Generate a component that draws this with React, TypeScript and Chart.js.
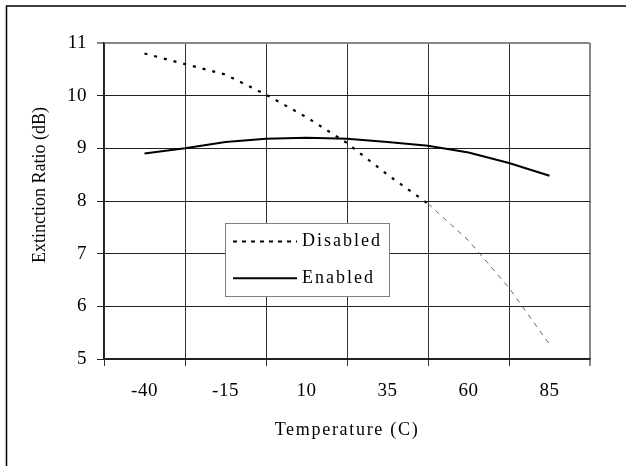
import { useEffect, useRef } from "react"
import { Chart, registerables } from "chart.js"
import type { Plugin } from "chart.js"

Chart.register(...registerables)

// temperature (C) of each measurement
const temperatures = [-40, -27.5, -15, -2.5, 10, 22.5, 35, 47.5, 60, 72.5, 85]
// extinction ratio (dB)
const disabledRatio = [10.8, 10.6, 10.4, 10.02, 9.59, 9.1, 8.5, 7.95, 7.25, 6.35, 5.28]
const enabledRatio = [8.9, 9.0, 9.12, 9.18, 9.2, 9.18, 9.12, 9.05, 8.92, 8.72, 8.48]

const xTickLabels = ["-40", "-15", "10", "35", "60", "85"]
const yMin = 5
const yMax = 11

const FONT = "'Liberation Serif', 'Times New Roman', serif"
const halfStep = 12.5

// category boundaries sit half a step either side of each label
const xBounds = [...xTickLabels.map((l) => Number(l) - halfStep), Number(xTickLabels[xTickLabels.length - 1]) + halfStep]

const sheetPlugin: Plugin<"line"> = {
  id: "sheet",
  beforeDraw(chart) {
    const { ctx, width, height } = chart
    ctx.save()
    ctx.fillStyle = "#fff"
    ctx.fillRect(0, 0, width, height)
    ctx.strokeStyle = "#000"
    ctx.lineWidth = 1.5
    ctx.beginPath()
    ctx.moveTo(6.5, height)
    ctx.lineTo(6.5, 6)
    ctx.lineTo(width, 6)
    ctx.stroke()
    ctx.restore()
    ;(ctx as any).letterSpacing = "0.5px"
  },
  afterDraw(chart) {
    const { ctx } = chart
    ctx.save()
    ;(ctx as any).letterSpacing = "0px"
    ctx.fillStyle = "#000"
    ctx.textAlign = "center"
    ctx.textBaseline = "middle"

    // y title
    ctx.save()
    ctx.font = `18px ${FONT}`
    ctx.translate(40, 185)
    ctx.rotate(-Math.PI / 2)
    ctx.fillText("Extinction Ratio (dB)", 0, 0)
    ctx.restore()

    // x title
    ;(ctx as any).letterSpacing = "1.7px"
    ctx.font = `18px ${FONT}`
    ctx.fillText("Temperature (C)", 347, 430)

    // legend box
    const bx = 225.5
    const by = 223.5
    ctx.fillStyle = "#fff"
    ctx.fillRect(bx, by, 164, 73)
    ctx.strokeStyle = "#808080"
    ctx.lineWidth = 1
    ctx.strokeRect(bx, by, 164, 73)

    ctx.textAlign = "left"
    ;(ctx as any).letterSpacing = "2px"
    chart.data.datasets.forEach((ds: any, i) => {
      const rowY = 241.5 + i * 36.8
      ctx.save()
      ctx.strokeStyle = "#000"
      ctx.lineWidth = 2
      ctx.setLineDash(ds.legendDash || [])
      ctx.beginPath()
      ctx.moveTo(233, rowY)
      ctx.lineTo(297, rowY)
      ctx.stroke()
      ctx.restore()
      ctx.fillStyle = "#000"
      ctx.fillText(ds.label, 302, rowY)
    })
    ctx.restore()
    ;(ctx as any).letterSpacing = "0px"
  },
}

export default function App() {
  const chartRef = useRef<HTMLCanvasElement>(null)
  const chartInstance = useRef<Chart | null>(null)

  useEffect(() => {
    if (!chartRef.current) return
    if (chartInstance.current) chartInstance.current.destroy()
    const ctx = chartRef.current.getContext("2d")
    if (!ctx) return

    const thinFrom = 47.5

    chartInstance.current = new Chart(ctx, {
      type: "line",
      data: {
        datasets: [
          {
            label: "Disabled",
            data: temperatures.map((t, i) => ({ x: t, y: disabledRatio[i] })),
            borderColor: "#000",
            borderWidth: 2.2,
            borderDash: [3, 7],
            pointRadius: 0,
            fill: false,
            legendDash: [4, 5],
            segment: {
              borderColor: (c: any) => (c.p0.parsed.x >= thinFrom ? "#666" : undefined),
              borderWidth: (c: any) => (c.p0.parsed.x >= thinFrom ? 1 : undefined),
              borderDash: (c: any) => (c.p0.parsed.x >= thinFrom ? [5, 5] : undefined),
            },
          } as any,
          {
            label: "Enabled",
            data: temperatures.map((t, i) => ({ x: t, y: enabledRatio[i] })),
            borderColor: "#000",
            borderWidth: 2,
            pointRadius: 0,
            fill: false,
          },
        ],
      },
      options: {
        responsive: false,
        animation: false,
        layout: { padding: { top: 43, right: 36, left: 0, bottom: 0 } },
        plugins: {
          legend: { display: false },
          tooltip: { enabled: false },
        },
        scales: {
          x: {
            type: "linear",
            min: xBounds[0],
            max: xBounds[xBounds.length - 1],
            afterBuildTicks: (scale) => {
              scale.ticks = xBounds.map((v) => ({ value: v }))
            },
            afterFit: (scale) => {
              scale.height = 107
            },
            ticks: {
              callback: (_v, i) => xTickLabels[i] ?? "",
              labelOffset: 40.5,
              padding: 14,
              autoSkip: false,
              maxRotation: 0,
              color: "#000",
              font: { family: FONT, size: 19 },
            },
            grid: {
              color: (c) => (c.index === xBounds.length - 1 ? "#888" : "#333"),
              lineWidth: (c) => (c.index === xBounds.length - 1 ? 2 : 1),
              tickLength: 7,
            },
            border: { color: "#222", width: 1.5 },
          },
          y: {
            min: yMin,
            max: yMax,
            afterFit: (scale) => {
              scale.width = 104
            },
            ticks: {
              stepSize: 1,
              padding: 10,
              color: "#000",
              font: { family: FONT, size: 19 },
            },
            grid: {
              color: (c) => (c.tick && c.tick.value === yMax ? "#888" : "#222"),
              lineWidth: (c) => (c.tick && c.tick.value === yMax ? 2 : 1),
              tickLength: 7,
            },
            border: { color: "#222", width: 1.5 },
          },
        },
      },
      plugins: [sheetPlugin],
    })

    return () => {
      if (chartInstance.current) {
        chartInstance.current.destroy()
        chartInstance.current = null
      }
    }
  }, [])

  return (
    <div style={{ position: "fixed", left: 0, top: 0, width: 626, height: 466 }}>
      <canvas ref={chartRef} width={626} height={466} style={{ display: "block" }} />
    </div>
  )
}
